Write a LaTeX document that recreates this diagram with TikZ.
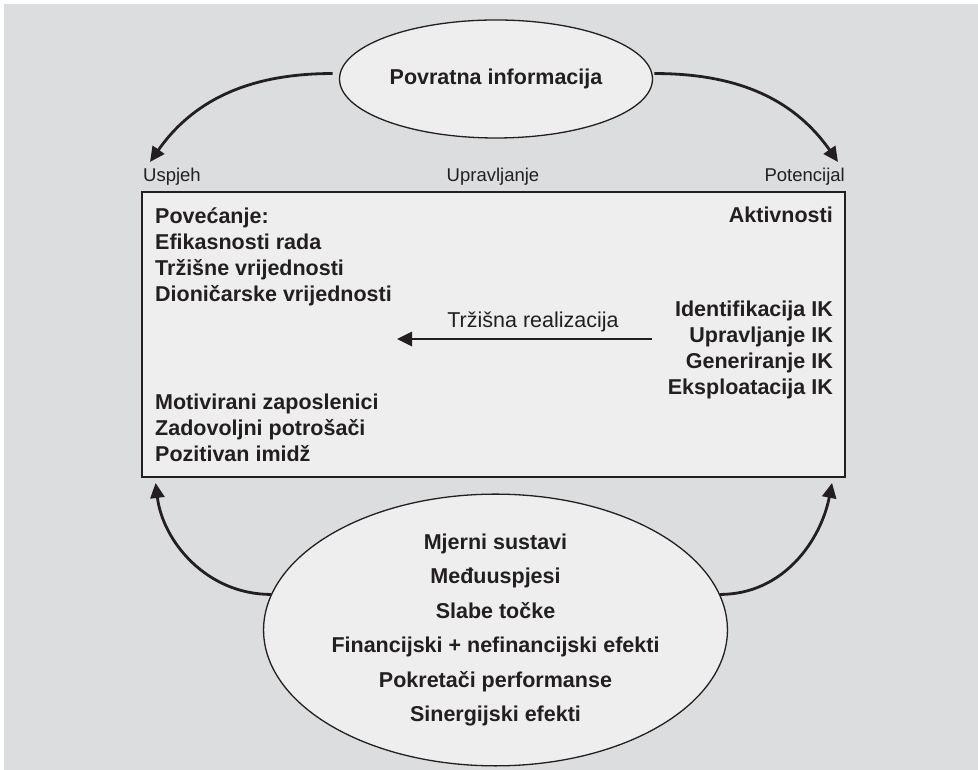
\documentclass[tikz,border=0pt]{standalone}
\usepackage{fontspec}
\setmainfont{Liberation Sans}
\usepackage{xcolor}
\usepackage{tikz}
\usetikzlibrary{arrows.meta,shapes.geometric,positioning,calc}
\definecolor{bggray}{HTML}{DCDDDF}
\definecolor{panelfill}{HTML}{EEEEEE}
\definecolor{ink}{HTML}{231F20}

\begin{document}
\begin{tikzpicture}[x=1pt, y=1pt,
  lbl/.style={inner sep=0pt, text=ink, font=\fontsize{18.5}{22}\selectfont},
  item/.style={inner sep=0pt, text=ink, font=\fontsize{21.5}{26.3}\bfseries\selectfont},
  oval/.style={ellipse, draw=ink, line width=1.3pt, fill=panelfill, inner sep=0pt, align=center, text=ink, font=\fontsize{21.5}{34.4}\bfseries\selectfont},
  flow/.style={draw=ink, line width=2.8pt, -{Triangle[length=15pt,width=14pt]}},
]
\useasboundingbox (0,0) rectangle (978,770);
\fill[white] (0,0) rectangle (978,770);
\fill[bggray] (4,0) rectangle (978,766);

\node[draw=ink, line width=2pt, fill=panelfill, minimum width=703pt, minimum height=285pt] (frame) at (493.5,435.5) {};
\node[oval, minimum width=313pt, minimum height=118pt] (fb) at (496,691) {Povratna informacija};
\node[oval, minimum width=455pt, minimum height=253pt] (ms) at (495.5,140) {Mjerni sustavi\\Međuuspjesi\\Slabe točke\\Financijski + nefinancijski efekti\\Pokretači performanse\\Sinergijski efekti};

\node[lbl, anchor=base west] (uspjeh) at (143,588) {Uspjeh};
\node[lbl, anchor=base] (upravljanje) at (493,588) {Upravljanje};
\node[lbl, anchor=base east] (potencijal) at (845,588) {Potencijal};

\node[item, anchor=base west, align=left] (povecanje) at (155,468) {Povećanje:\\Efikasnosti rada\\Tržišne vrijednosti\\Dioničarske vrijednosti};
\node[item, anchor=base west, align=left] (ljudi) at (155,308) {Motivirani zaposlenici\\Zadovoljni potrošači\\Pozitivan imidž};
\node[item, anchor=base east] (aktivnosti) at (833,547) {Aktivnosti};
\node[item, anchor=base east, align=right] (ik) at (833,375) {Identifikacija IK\\Upravljanje IK\\Generiranje IK\\Eksploatacija IK};
\node[lbl, font=\fontsize{21.5}{26}\selectfont, anchor=base] (realizacija) at (533,442) {Tržišna realizacija};

\coordinate (tipL) at (150,608);
\coordinate (tipR) at (838,608);
\coordinate (realStart) at (652,431);
\coordinate (realEnd) at (397,431);

\draw[flow, shorten <=7pt] (fb.178) to[out=180, in=55] (tipL);
\draw[flow, shorten <=2pt] (fb.2) to[out=0, in=125] (tipR);
\draw[flow] (realStart) -- (realEnd);
\draw[flow, shorten >=5pt] (ms.171) to[out=180, in=-83] ([xshift=14pt]frame.south west);
\draw[flow, shorten >=5pt] (ms.9) to[out=0, in=-101] ([xshift=-13pt]frame.south east);
\end{tikzpicture}
\end{document}
